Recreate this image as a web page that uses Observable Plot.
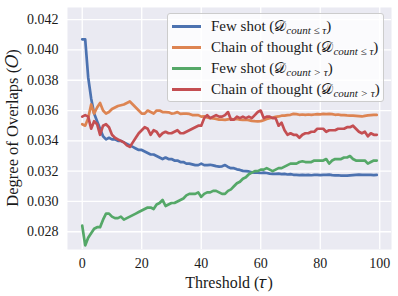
<!DOCTYPE html>
<html>
<head>
<meta charset="utf-8">
<script src="https://cdn.jsdelivr.net/npm/d3@7"></script>
<script src="https://cdn.jsdelivr.net/npm/@observablehq/plot@0.6"></script>
<style>
  html, body { margin: 0; padding: 0; background: #fff; }
  #wrap { position: relative; width: 398px; height: 296px; font-family: "Liberation Serif", "DejaVu Serif", serif; color: #1a1a1a; }
  #legend { position: absolute; left: 167px; top: 13px; width: 217px; height: 89px; background: rgba(255,255,255,0.8); border: 1px solid #cccccc; border-radius: 3px; box-sizing: border-box; }
  .row { position: absolute; left: 0; height: 20px; width: 100%; }
  .swatch { position: absolute; left: 4px; width: 29px; height: 3px; top: 9px; }
  .lab { position: absolute; left: 43px; top: 0; font-size: 15px; line-height: 20px; white-space: nowrap; }
  .lab sub { font-size: 11px; font-style: italic; vertical-align: -3px; line-height: 0; }
</style>
</head>
<body>
<div id="wrap"></div>
<script>
const thresholds = [0,1,2,3,4,5,6,7,8,9,10,11,12,13,14,15,16,17,18,19,20,21,22,23,24,25,26,27,28,29,30,31,32,33,34,35,36,37,38,39,40,41,42,43,44,45,46,47,48,49,50,51,52,53,54,55,56,57,58,59,60,61,62,63,64,65,66,67,68,69,70,71,72,73,74,75,76,77,78,79,80,81,82,83,84,85,86,87,88,89,90,91,92,93,94,95,96,97,98,99];

const fewShotLE = [0.0407,0.0407,0.0382,0.0368,0.0358,0.0353,0.0348,0.0343,0.0341,0.0342,0.0341,0.0341,0.0340,0.0340,0.0339,0.0338,0.0337,0.0336,0.0335,0.0334,0.0334,0.0333,0.0332,0.0331,0.0331,0.0330,0.0329,0.0328,0.0329,0.0328,0.0328,0.0327,0.0327,0.0326,0.0326,0.0325,0.0325,0.03245,0.0324,0.0324,0.0325,0.0324,0.0324,0.03242,0.03238,0.03233,0.0323,0.03232,0.0324,0.03228,0.0322,0.0322,0.03212,0.03208,0.03202,0.032,0.03198,0.03192,0.0319,0.0319,0.03188,0.0319,0.03188,0.03184,0.03182,0.03182,0.03184,0.0318,0.03182,0.03178,0.0318,0.03176,0.03175,0.03174,0.03176,0.03174,0.03175,0.03173,0.03175,0.03175,0.03174,0.03176,0.03175,0.03177,0.03174,0.03172,0.03173,0.03171,0.0317,0.0317,0.03172,0.03174,0.03176,0.03177,0.03175,0.03175,0.03176,0.03175,0.03174,0.03175];

const cotLE = [0.0351,0.0350,0.0355,0.0364,0.0358,0.0362,0.0365,0.0360,0.0358,0.0359,0.0361,0.0362,0.0363,0.03635,0.0364,0.0365,0.0366,0.0364,0.0362,0.0360,0.0358,0.0358,0.0360,0.0359,0.0358,0.0360,0.0360,0.0359,0.0359,0.03588,0.0358,0.03582,0.0359,0.03578,0.0358,0.0358,0.03578,0.0357,0.0357,0.0357,0.0356,0.03562,0.03555,0.0355,0.03548,0.03545,0.0354,0.0354,0.03538,0.03542,0.03544,0.03542,0.03545,0.0354,0.03538,0.0354,0.03537,0.03532,0.0353,0.03529,0.0353,0.03536,0.03544,0.0355,0.03553,0.03558,0.03561,0.03566,0.03566,0.0357,0.03572,0.03578,0.03576,0.03572,0.03574,0.03572,0.03574,0.03571,0.03574,0.03576,0.03575,0.03578,0.03576,0.03578,0.03576,0.03572,0.03574,0.0357,0.0357,0.03568,0.03567,0.03566,0.03565,0.03563,0.03561,0.03565,0.03568,0.0357,0.03572,0.03571];

const fewShotGT = [0.0284,0.0271,0.0276,0.0279,0.0282,0.0283,0.0283,0.0288,0.0292,0.0292,0.0290,0.0289,0.0289,0.0290,0.0288,0.0289,0.0290,0.0291,0.0292,0.0293,0.0294,0.0295,0.0296,0.0296,0.0295,0.0298,0.0299,0.0301,0.0297,0.0298,0.0299,0.0299,0.0300,0.0301,0.0302,0.0304,0.0305,0.0305,0.0305,0.0306,0.0303,0.0305,0.0306,0.0306,0.0307,0.0307,0.0306,0.0305,0.0305,0.0307,0.0308,0.0310,0.0312,0.0313,0.0315,0.0316,0.0318,0.0319,0.0320,0.0320,0.0321,0.0321,0.0322,0.0321,0.0320,0.0321,0.0322,0.0322,0.0323,0.0324,0.0325,0.0325,0.0325,0.0326,0.03265,0.0326,0.0326,0.0326,0.0327,0.0327,0.0327,0.0327,0.0328,0.0325,0.0327,0.0328,0.0328,0.0328,0.0329,0.0329,0.0330,0.0328,0.0327,0.0327,0.0327,0.0327,0.0325,0.0326,0.0327,0.0327];

const cotGT = [0.0356,0.0357,0.0356,0.0348,0.0353,0.0351,0.0344,0.0350,0.0351,0.0349,0.0344,0.0342,0.0341,0.0340,0.0339,0.0337,0.0336,0.0339,0.0342,0.0345,0.0347,0.0349,0.0348,0.0344,0.0347,0.0346,0.0343,0.0345,0.0346,0.0345,0.0345,0.0346,0.0347,0.0345,0.0345,0.0346,0.0347,0.0348,0.0349,0.0350,0.0350,0.0355,0.0357,0.0355,0.0356,0.0357,0.0356,0.0356,0.0357,0.0359,0.0354,0.0354,0.0356,0.0355,0.0356,0.0355,0.0356,0.0355,0.0357,0.0359,0.0360,0.0355,0.0356,0.0356,0.0355,0.0355,0.0350,0.0352,0.0347,0.0344,0.0345,0.0344,0.0344,0.0342,0.0344,0.0345,0.0345,0.0346,0.0346,0.0348,0.0348,0.0348,0.0346,0.0347,0.0347,0.0347,0.0348,0.0348,0.0348,0.0349,0.0349,0.0350,0.0348,0.0346,0.0345,0.0346,0.0343,0.0345,0.0344,0.0344];

const seriesNames = ["Few shot (≤)", "Chain of thought (≤)", "Few shot (>)", "Chain of thought (>)"];
const seriesColors = ["#4c72b0", "#dd8452", "#55a868", "#c44e52"];
const seriesValues = [fewShotLE, cotLE, fewShotGT, cotGT];
const legendMain = ["Few shot", "Chain of thought", "Few shot", "Chain of thought"];
const legendSub = ["count ≤ τ", "count ≤ τ", "count > τ", "count > τ"];

const xTicks = [0, 20, 40, 60, 80, 100];
const yTicks = [0.028, 0.030, 0.032, 0.034, 0.036, 0.038, 0.040, 0.042];
const xLabel = "Threshold (\u{1D70F})";
const yLabel = "Degree of Overlaps (\u{1D442})";

const data = seriesValues.flatMap((vals, s) => vals.map((v, i) => ({t: thresholds[i], v, s: seriesNames[s]})));

const W = 398, H = 296;
const mL = 67, mR = 7, mT = 7, mB = 47;

const chart = Plot.plot({
  width: W, height: H,
  marginLeft: mL, marginRight: mR, marginTop: mT, marginBottom: mB,
  style: {fontFamily: '"Liberation Serif", serif', fontSize: "14px", color: "#1a1a1a", background: "white"},
  x: {domain: [-4.95, 103.95], ticks: xTicks, tickFormat: d => String(d), label: null},
  y: {domain: [0.02683, 0.0428], ticks: yTicks, tickFormat: d3.format(".3f"), label: null},
  color: {domain: seriesNames, range: seriesColors},
  marks: [
    Plot.frame({fill: "#eaeaf2", stroke: null}),
    Plot.gridX(xTicks, {stroke: "white", strokeOpacity: 1, strokeWidth: 1.3}),
    Plot.gridY(yTicks, {stroke: "white", strokeOpacity: 1, strokeWidth: 1.3}),
    Plot.axisX(xTicks, {tickSize: 0, tickPadding: 9, fontSize: 14, label: null}),
    Plot.axisY(yTicks, {tickSize: 0, tickPadding: 9, fontSize: 14, label: null, tickFormat: d3.format(".3f")}),
    Plot.lineY(data, {x: "t", y: "v", z: "s", stroke: "s", strokeWidth: 2.7, strokeLinejoin: "round", strokeLinecap: "round"})
  ]
});

const wrap = document.getElementById("wrap");
wrap.appendChild(chart);

const svg = d3.select(chart);
svg.append("text")
  .attr("x", mL + (W - mL - mR) / 2).attr("y", 288)
  .attr("text-anchor", "middle")
  .attr("font-family", '"Liberation Serif", serif').attr("font-size", 16).attr("fill", "#1a1a1a")
  .text(xLabel);
svg.append("text")
  .attr("transform", `translate(18,${mT + (H - mT - mB) / 2}) rotate(-90)`)
  .attr("text-anchor", "middle")
  .attr("font-family", '"Liberation Serif", serif').attr("font-size", 16.5).attr("fill", "#1a1a1a")
  .text(yLabel);

const legend = document.createElement("div");
legend.id = "legend";
const rowTops = [2, 23, 44, 65];
seriesNames.forEach((n, i) => {
  const row = document.createElement("div");
  row.className = "row";
  row.style.top = rowTops[i] + "px";
  row.innerHTML = `<div class="swatch" style="background:${seriesColors[i]}"></div>` +
    `<div class="lab">${legendMain[i]} (𝒟<sub>${legendSub[i]}</sub>)</div>`;
  legend.appendChild(row);
});
wrap.appendChild(legend);
</script>
</body>
</html>
